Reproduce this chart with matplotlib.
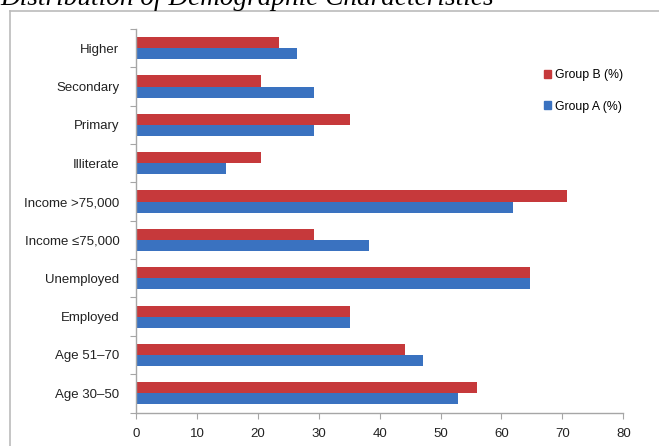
import numpy as np
import matplotlib
matplotlib.use('Agg')
import matplotlib.pyplot as plt
from matplotlib.lines import Line2D
from matplotlib.patches import Patch

# categories, bottom to top
categories = ['Age 30\u201350', 'Age 51\u201370', 'Employed', 'Unemployed',
              'Income \u226475,000', 'Income >75,000', 'Illiterate',
              'Primary', 'Secondary', 'Higher']
group_b = [55.9, 44.1, 35.2, 64.7, 29.3, 70.7, 20.6, 35.2, 20.6, 23.5]
group_a = [52.9, 47.1, 35.2, 64.7, 38.2, 61.9, 14.7, 29.3, 29.3, 26.5]
x_ticks = [0, 10, 20, 30, 40, 50, 60, 70, 80]

red = '#C6393B'
blue = '#3A72C0'
grey = '#A6A6A6'

plt.rcParams['font.family'] = ['Liberation Sans', 'DejaVu Sans']

W, H = 659, 446
fig = plt.figure(figsize=(W / 100, H / 100), dpi=100)
ax = fig.add_axes([136 / W, 1 - 412.5 / H, (623.3 - 136) / W, (412.5 - 29) / H])

y = np.arange(len(categories))
h = 0.29
ax.barh(y + h / 2, group_b, height=h, color=red, linewidth=0)
ax.barh(y - h / 2, group_a, height=h, color=blue, linewidth=0)

ax.set_xlim(0, 80)
ax.set_ylim(-0.5, len(categories) - 0.5)
ax.set_xticks(x_ticks)
ax.set_xticklabels([str(t) for t in x_ticks])

ax.set_yticks(np.arange(-0.5, len(categories)), labels=[''] * (len(categories) + 1))
ax.set_yticks(y, labels=categories, minor=True)
ax.tick_params(axis='y', which='major', length=4, width=0.8, color=grey)
ax.tick_params(axis='y', which='minor', length=0, pad=12, labelsize=9.5, labelcolor='#222222')
ax.tick_params(axis='x', length=4, width=0.8, color=grey, pad=7, labelsize=9.5, labelcolor='#222222')

for s in ['top', 'right']:
    ax.spines[s].set_visible(False)
for s in ['left', 'bottom']:
    ax.spines[s].set_color(grey)
    ax.spines[s].set_linewidth(1.0)

handles = [Patch(color=red, label='Group B (%)'), Patch(color=blue, label='Group A (%)')]
fig.legend(handles=handles, loc='upper left', bbox_to_anchor=(533 / W, 1 - 58 / H),
           frameon=False, fontsize=8.8, handlelength=0.6, handleheight=0.6,
           handletextpad=0.3, labelspacing=1.6)

# outer chart frame
fig.add_artist(Line2D([10 / W, 10 / W], [0, 1 - 10.5 / H], color='#BBBBBB', lw=1.2))
fig.add_artist(Line2D([10 / W, 1], [1 - 10.5 / H, 1 - 10.5 / H], color='#BBBBBB', lw=1.2))

fig.text(0.0, 1 - 5 / H, 'Distribution of Demographic Characteristics',
         family='Liberation Serif', style='italic', fontsize=19.6, va='baseline', ha='left')

fig.savefig('out.png', dpi=100)
